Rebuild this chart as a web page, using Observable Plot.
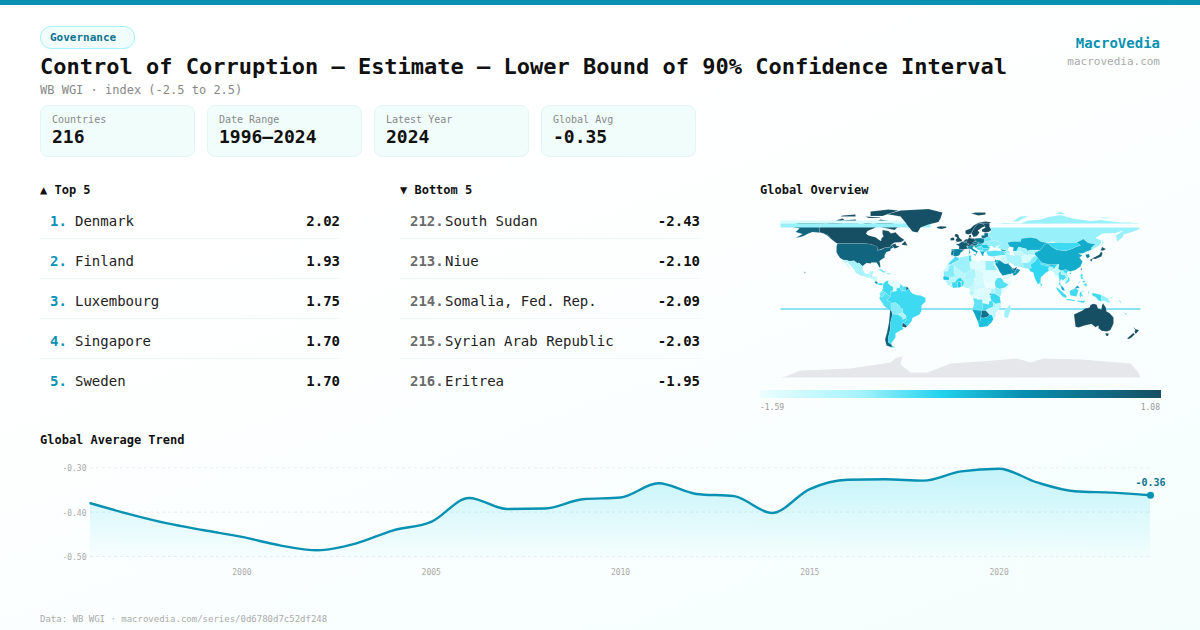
<!DOCTYPE html>
<html><head><meta charset="utf-8">
<script src="https://cdn.jsdelivr.net/npm/d3@7"></script>
<script src="https://cdn.jsdelivr.net/npm/@observablehq/plot@0.6"></script>
<style>
html,body{margin:0;padding:0}
body{width:1200px;height:630px;position:relative;overflow:hidden;background:linear-gradient(160deg,#ffffff 30%,#f4fefd 100%);font-family:"DejaVu Sans Mono",monospace;color:#111}
.a{position:absolute;white-space:pre;line-height:1}
.card{position:absolute;top:105px;width:153px;height:50px;background:#f0fdfa;border:1px solid #e3f6f3;border-radius:8px}
svg{background:transparent!important;overflow:visible}
#map,#trend{position:absolute}
</style></head><body>
<div class="a" style="left:0;top:0;width:1200px;height:5px;background:#0891b2"></div>
<div class="a" style="left:40px;top:26px;width:93px;height:21px;background:#f0fdfa;border:1px solid #a5f3fc;border-radius:11px"></div>
<div class="a" id="badge" style="left:50px;top:32px;font-size:11px;font-weight:700;color:#0e7490"></div>
<div class="a" id="title" style="left:40px;top:56px;font-size:22px;font-weight:700;color:#111"></div>
<div class="a" id="sub" style="left:40px;top:84px;font-size:12px;color:#888"></div>
<div class="a" style="right:40px;top:36px;font-size:14px;font-weight:700;color:#0891b2">MacroVedia</div>
<div class="a" style="right:40px;top:56px;font-size:11px;color:#aaa">macrovedia.com</div>
<div id="cards"></div><div id="lists"></div>
<div class="a" style="left:760px;top:184px;font-size:12px;font-weight:700">Global Overview</div>
<div id="map" style="left:780px;top:202px"></div>
<div class="a" id="legend" style="left:760px;top:390px;width:401px;height:8px"></div>
<div class="a" id="lo" style="left:760px;top:404px;font-size:8px;color:#999"></div>
<div class="a" id="hi" style="right:40px;top:404px;font-size:8px;color:#999"></div>
<div class="a" style="left:40px;top:434px;font-size:12px;font-weight:700">Global Average Trend</div>
<div id="trend" style="left:0;top:450px"></div>
<div class="a" id="foot" style="left:40px;top:615px;font-size:9px;color:#aaa"></div>
<script>
const badge="Governance";
const title="Control of Corruption — Estimate — Lower Bound of 90% Confidence Interval";
const subtitle="WB WGI · index (-2.5 to 2.5)";
const footer="Data: WB WGI · macrovedia.com/series/0d6780d7c52df248";
const cardLabels=["Countries","Date Range","Latest Year","Global Avg"];
const cardValues=["216","1996–2024","2024","-0.35"];
const topRanks=[1,2,3,4,5];
const topNames=["Denmark","Finland","Luxembourg","Singapore","Sweden"];
const topValues=["2.02","1.93","1.75","1.70","1.70"];
const bottomRanks=[212,213,214,215,216];
const bottomNames=["South Sudan","Niue","Somalia, Fed. Rep.","Syrian Arab Republic","Eritrea"];
const bottomValues=["-2.43","-2.10","-2.09","-2.03","-1.95"];
const years=[1996,1997,1998,1999,2000,2001,2002,2003,2004,2005,2006,2007,2008,2009,2010,2011,2012,2013,2014,2015,2016,2017,2018,2019,2020,2021,2022,2023,2024];
const averages=[-0.380,-0.404,-0.425,-0.441,-0.456,-0.475,-0.486,-0.471,-0.441,-0.422,-0.368,-0.393,-0.392,-0.371,-0.367,-0.335,-0.359,-0.364,-0.402,-0.348,-0.327,-0.326,-0.329,-0.308,-0.302,-0.333,-0.353,-0.356,-0.362];
const xTicks=[2000,2005,2010,2015,2020];
const yTicks=[-0.5,-0.4,-0.3];
const colorDomain=[-1.59,-0.9225,-0.3885,0.1455,1.08];
const colorRange=["#ecfeff","#a5f3fc","#22d3ee","#0891b2","#164e63"];
const legendStops=[0,25,45,65,100];
const lowLabel="-1.59", highLabel="1.08";

// Hand-read country outlines: each ring is a flat lon,lat list.
const outlines={
"Fiji":[[-180,-16,180,-16,180,-17,-180,-17]],
"Canada":[[-141,69.6,-134,69,-128,70,-118,69,-108,68,-98,68,-94,71,-88,68.5,-82,69.5,-81,67,-87,64,-93,61.5,-94.5,58.8,-92,57,-85,55.3,-82,53,-79.5,51.5,-79,54.5,-77,56,-78,59,-78,62.4,-72,61.5,-69.5,59,-65,60.3,-61,56,-56,52.5,-60,50.2,-66,50,-70,47.3,-65,49,-64.5,47,-61,46,-64,44.5,-66,44,-67,45.2,-69,47.4,-71,45,-75,45,-79,43.5,-83,42,-82.5,45.3,-89,48,-95,49,-123,49,-125,50,-130,54,-133,57,-137,59,-141,60],[-80,73,-72,71.5,-62,66,-66,62.5,-73,64,-78,65,-85,70],[-118,72,-105,73,-102,69,-115,69],[-90,76.5,-78,76.5,-62,82,-72,83,-90,81],[-125,72,-118,74,-116,73,-120,71],[-95,76,-80,75,-80,74.5,-92,74.5],[-59,47.7,-53,47,-55.5,51.5],[-120,76,-105,76,-105,78,-118,77]],
"USA":[[-123,49,-95,49,-89,48,-84.5,46.5,-82.5,45.3,-83,42,-79,43,-75,45,-71,45,-69,47.4,-67,45,-70,43.5,-70,41.7,-74,40.5,-76,37,-75.7,35.2,-81,31.5,-80,26,-81,25,-82.7,28,-84,30,-89,30,-90,29,-94,29.5,-97.3,27,-97.3,25.9,-99.5,27.5,-101.5,29.8,-103,29,-106.5,31.8,-111,31.3,-114.8,32.5,-117.1,32.5,-120.5,34.5,-124,40,-124,46],[-168,65.6,-162,67,-166,68.5,-156,71.3,-141,69.6,-141,60,-137,59,-133,57,-130,55,-133,58,-140,59.8,-148,60.5,-152,59,-158,56,-165,54.5,-158,58.5,-165,60.5,-161,64],[-156.5,21,-155,20,-155.5,18.9]],
"BandNorth":[[-180,72,-30,72,-30,69,-180,69]],
"BandRussia":[[-180,69,-30,69,-30,65,-180,65]],
"Greenland":[[-73,78.3,-60,82,-32,83.6,-18,80,-20,74,-22,70.5,-32,68,-40,65,-43,60,-48,61,-53,67,-55,70,-60,76]],
"Mexico":[[-117.1,32.5,-114.8,32.5,-111,31.3,-106.5,31.8,-103,29,-101.5,29.8,-99.5,27.5,-97.3,25.9,-97.8,22.5,-95,18.7,-91,18.7,-90.5,21,-87,21.5,-88,18.5,-91,17.5,-92,14.6,-95,16,-100,17,-105,20,-106,23,-109,26,-112.5,30,-113,31,-114.7,30,-112,26,-109.5,23,-112,25,-115,29]],
"Guatemala":[[-92,14.6,-91,17.5,-89.2,17.8,-88.5,15.8,-89.5,14.4]],
"Belize":[[-89.2,17.8,-88.2,18.5,-88.4,16,-89.1,16]],
"Honduras":[[-88.5,15.8,-84,15.9,-83.2,15,-87.3,13,-89.3,14.4]],
"ElSalvador":[[-90,13.8,-89.3,14.4,-87.7,13.8,-88,13.2]],
"Nicaragua":[[-87.3,13,-83.2,15,-83.7,11,-85.7,11]],
"CostaRica":[[-85.7,11,-83.7,11,-82.6,9.5,-83.5,8.3,-85.8,10]],
"Panama":[[-83,9,-79.5,9.5,-77.2,8.6,-78,7.4,-80.5,7.3,-83,8.2]],
"Cuba":[[-85,22,-80,23.2,-74.2,20.2,-77.7,19.9,-78,20.7,-82,22.4]],
"Hispaniola":[[-74.4,18.4,-73,19.9,-68.4,18.6,-71,18]],
"Jamaica":[[-78.3,18.5,-76.3,18.2,-77,17.8]],
"PuertoRico":[[-67,18.5,-65.7,18.3,-66,18]],
"Colombia":[[-77.4,8.6,-75,11,-72,12.3,-72,9,-70,7,-67.5,6,-67.5,2,-69.8,1,-70,-4,-73,-2.5,-75,0,-78.8,1.4,-77.3,4,-77.4,7]],
"Venezuela":[[-72,12.3,-68,11.5,-62,10.7,-60,8.5,-60.8,5,-64,4,-64,1.5,-67,1,-67.5,2,-67.5,6,-70,7,-72,9]],
"Guyana":[[-60,8.5,-57.2,6,-57.5,2,-59,1.3,-60.8,5]],
"Suriname":[[-57.2,6,-54,5.9,-54.5,2.3,-57.5,2]],
"FrenchGuiana":[[-54,5.9,-51.7,4.2,-52.8,2.3,-54.5,2.3]],
"Ecuador":[[-78.8,1.4,-75.2,-0.1,-75.5,-1.5,-78.3,-4.8,-80.3,-3.4,-81,-1]],
"Peru":[[-80.3,-3.4,-78.3,-4.8,-75.5,-1.5,-75.2,-0.1,-73,-2.5,-70,-4,-73.5,-7.5,-70.5,-9.5,-69,-11,-69,-16,-69.5,-17.5,-70.4,-18.3,-76,-14,-81.2,-6]],
"Brazil":[[-51.7,4.2,-50,1,-48,-1,-44,-2.5,-40,-3,-35,-5.3,-35,-9,-39,-13,-39,-18,-41,-22,-48,-25.5,-49,-29,-53.4,-33.7,-57.5,-30.2,-54,-27,-54.6,-25.5,-54.3,-24,-55.8,-22,-58,-20,-57.7,-16.3,-60.2,-16.2,-60.5,-13.8,-65.3,-10,-69.6,-11,-70.5,-9.5,-73.5,-7.5,-70,-4,-69.8,1,-67,1,-64,1.5,-64,4,-60.8,5,-59,1.3,-54.5,2.3]],
"Bolivia":[[-69.6,-11,-65.3,-10,-60.5,-13.8,-60.2,-16.2,-57.7,-16.3,-58,-20,-62.6,-22,-66.2,-21.8,-68,-22,-69.5,-17.5,-69,-16]],
"Paraguay":[[-58,-20,-55.8,-22,-54.3,-24,-54.6,-25.5,-58,-27.3,-57.7,-25.3,-62.6,-22]],
"Chile":[[-70.4,-18.3,-69.5,-17.5,-68,-22,-70,-30,-70,-36,-72,-44,-72,-50,-68.5,-52.4,-68.6,-55,-74,-53,-75.5,-47,-73.5,-40,-71.5,-30]],
"Argentina":[[-68,-22,-66.2,-21.8,-62.6,-22,-57.7,-25.3,-58,-27.3,-54.6,-25.5,-54,-27,-57.5,-30.2,-58.4,-34,-57,-36.5,-62,-39,-65,-41,-65,-45,-69,-50.5,-68.5,-52.4,-72,-50,-72,-44,-70,-36,-70,-30],[-68.6,-52.7,-65.2,-55,-68.6,-55]],
"Uruguay":[[-57.5,-30.2,-53.4,-33.7,-54.9,-35,-58.4,-34]],
"Iceland":[[-24,65.5,-20,66.3,-14.5,66,-14,64.7,-19,63.4,-22.5,64]],
"Ireland":[[-10,52,-10,54.3,-7,55.3,-6,53,-6.5,52.2]],
"UK":[[-5.7,50,-3,50.6,1.3,51.2,1.7,52.7,0,53.5,-1.6,55.5,-2,57.6,-3.5,58.6,-5,58.6,-6,56.5,-3,54.5,-4.5,53.3,-5,51.7,-3,51.4]],
"Norway":[[5,59,7.5,58,10.7,59,12,61.5,14,65,17,68.5,20.5,69,25,69.2,29,69.5,31,70.2,25,71.1,18,69.8,13,67,10,64,5,62],[11,79,18,77,25,78,25,80,15,80]],
"Sweden":[[11,59,13,55.5,16,56.2,19,59.8,17.3,62,21.5,65,24,66,23.5,68,20.5,69,17,68.5,14,65,12,61.5]],
"Finland":[[21.5,61,25,60,28,60.5,31,62.5,29,66,29,69.5,25,69.2,20.5,69,23.5,68,24,66,25,65,21.5,63]],
"Denmark":[[8.2,55,8.5,57,10.6,57.7,10.5,56,11,55,9.5,54.9]],
"France":[[-4.7,48.5,-1.5,48.7,1.5,50.9,4.2,50,8.2,49,7.5,47.6,6,46.2,7.5,43.8,3.2,43.2,3,42.5,-1.7,43.4,-1.2,46],[8.6,42.5,9.5,43,9.4,41.5]],
"Spain":[[-9.2,43.2,-1.7,43.4,3.2,42,0,39.8,-0.5,38,-2,36.8,-5.5,36,-7.4,37.2,-7,39,-6.3,41.8,-8.8,42]],
"Portugal":[[-8.8,42,-6.3,41.8,-7,39,-7.4,37.2,-9,37,-9.5,38.8]],
"Germany":[[6,51,7,53.5,9,54.8,11,54,14,53.9,15,51,12.2,50.3,13.8,48.7,10,47.4,7.6,47.6,8.2,49,6.2,49.6]],
"Netherlands":[[3.4,51.4,4.7,53,7,53.5,6,51]],
"Belgium":[[2.6,51,3.4,51.4,6,51,6.2,49.6,4.2,50]],
"Switzerland":[[6,46.2,7.6,47.6,10,47.4,10.4,46.5,8,45.9]],
"Austria":[[9.6,47.3,13.8,48.7,17,48.6,16,46.8,10.4,46.7]],
"Italy":[[7.5,43.8,7,45.9,10.4,46.7,13.7,46.5,12.3,45,12.5,44,16,41.8,18.5,40,17,40.4,16.5,39,16,38,15.6,40,12.5,41.5,10.3,43.5],[12.5,38,15.6,38.2,15,36.7],[8.3,41,9.7,41,9.5,39.1,8.5,39]],
"Poland":[[14,53.9,19,54.4,23.4,54,24,50.8,22.6,49.1,19,49.4,15,51]],
"Czechia":[[12.2,50.3,15,51,18.8,49.6,17,48.6,13.8,48.7]],
"Slovakia":[[17,48.6,18.8,49.6,22.6,49.1,22,48.4,18,47.8]],
"Hungary":[[16,46.8,17,48,22,48.4,21,46.2,18.5,45.8]],
"Croatia":[[13.7,46.5,16,46.8,18.5,45.8,19,45,15.7,44.8,17,43,18.5,42.5,14.5,45]],
"Serbia":[[15.7,45,19,45,21,46.2,22.7,44.2,22.4,42.4,20.6,41.8,19.3,42.2,18.5,42.5,17,43]],
"Albania":[[19.3,42.2,20.6,41.8,22.4,42.4,23,41.2,20.8,40.9,20,39.7,19.4,40.5]],
"Romania":[[21,46.2,22,48,26.6,48.2,28.2,45.5,29.6,45,28.6,43.7,22.7,44.2]],
"Moldova":[[26.6,48.2,29,47.9,30,46.4,28.2,45.5]],
"Bulgaria":[[22.7,44.2,28.6,43.7,28,42,26,41.5,23,41.2,22.4,42.4]],
"Greece":[[20,39.7,20.8,40.9,26,41.5,24,40.5,23,38.3,23,36.5,21.5,37,21,38.5]],
"Ukraine":[[24,50.8,31,52.2,34,52.3,40,50,39,47,37,46.8,35,46,36,45.2,33.5,44.5,32.6,45.8,30,46.4,29,47.9,26.6,48.2,22,48.4,22.6,49.1]],
"Belarus":[[23.4,54,28,56,31,54.8,31,52.2,24,50.8]],
"Baltics":[[21,55,23.4,54,26.5,55.5,28,56,27.5,59.4,23.5,59.2,24,57.2,21,57]],
"Russia":[[30,65,180,65,177,62.5,170,60,163,58,162,55,156.5,51,155.5,57,163,62,155,59.5,142,59,135,54.5,141,52,140,48,132,43,130.7,42.5,131,45,135,48.4,130,49,127,50,123,53.5,120,52,116,50,108,49.5,98,50,92,51,87,49.5,80,51,76,54,70,55,61,54,60,51,52,51,47,50,49,46,47.5,43,48,41.8,40,43.5,37,45,39,47,40,50,34,52.3,31,52.2,31,54.8,28,56,27.5,59.4,30,60,31,62.5,29,66],[30,69.3,40,69,44,68.5,60,69,68,72,75,72.5,80,73,88,75.5,100,77.5,112,74,130,71.5,140,72.5,160,70,170,70,180,69],[52,71,57,71,68,76.8,60,76],[95,79,105,78,100,81],[138,75,150,75,145,74],[142,54,143,50,142,46,141.8,50]],
"Turkey":[[26,40,26.5,42,28,41.3,34,42,41.5,41.5,44.7,39.7,44.8,37.2,42,37.2,36.5,36.5,32,36,27.5,36.8]],
"Cyprus":[[32.5,35,34.5,35.6,33.8,34.8]],
"Morocco":[[-5.9,35.8,-2,35,-1.2,32.6,-3.5,31.5,-8.7,28.7,-8.7,27.7,-13,27.7,-9.8,31.5,-6.8,34]],
"WesternSahara":[[-13,27.7,-8.7,27.7,-12,26,-12,23.5,-13,21.3,-17,21.3,-14.5,26]],
"Algeria":[[-2,35,8.6,37,8.2,33,9.5,30,10,24.7,12,23.5,5.7,19.5,3.2,19,1.2,20,-4.8,25,-8.7,27.7,-8.7,28.7,-3.5,31.5,-1.2,32.6]],
"Tunisia":[[8.6,37,11,37,10.2,34,11.5,32.5,9.5,30,8.2,33]],
"Libya":[[11.5,32.5,15,32.3,19,30.3,20,32.7,25,31.7,25,20,24,19.5,15,23,12,23.5,10,24.7,9.5,30]],
"Egypt":[[25,31.7,34,31.3,34.5,28,32.5,29.9,35.5,24,37,22,25,22]],
"Sudan":[[24,19.5,25,20,25,22,37,22,38.5,18,36.5,14.3,34.3,10.5,33,10,27,9.5,23.5,10,22.8,15]],
"SouthSudan":[[23.5,10,27,9.5,33,10,34.3,10.5,35,5,31,3.7,28,4.5,25,5]],
"Eritrea":[[36.5,14.3,38.5,18,43,12.5,40,14.8]],
"Ethiopia":[[36.5,14.3,40,14.8,42.5,12.5,43,11,48,8,45,5,42,4,39,3.5,35,5,34.3,10.5]],
"Djibouti":[[42.5,12.5,43.3,11.5,42.8,11]],
"Somalia":[[43,11,51,12,50,8,42,-1.5,41,-1.5,41,3.8,42,4,45,5,48,8]],
"Kenya":[[35,5,39,3.5,41,3.8,41,-1.5,39.3,-4.6,34,-1,34,4]],
"Uganda":[[31,3.7,34,4,34,-1,30,-1,30,1.5]],
"Tanzania":[[30,-1,34,-1,39.3,-4.6,40.4,-10.5,34.8,-11.5,32,-9.3,30.8,-8,29.5,-4.5]],
"Rwanda":[[29,-1.2,30.5,-1.2,30.5,-2.5,29,-2.7]],
"Burundi":[[29,-2.7,30.5,-2.5,29.5,-4.5]],
"Mauritania":[[-17,21.3,-13,21.3,-12,23.5,-12,26,-8.7,27.7,-4.8,25,-6.5,25,-5.5,15.5,-11.5,15.5,-16.5,16.5]],
"Mali":[[-4.8,25,1.2,20,3.2,19,4.2,15,0,14.9,-3,13.5,-5.5,10.4,-8.3,10.2,-11.5,12.4,-11.5,15.5,-5.5,15.5,-6.5,25]],
"Niger":[[3.2,19,5.7,19.5,12,23.5,15,23,15.5,16,13.7,13.5,4,13.5,3,11.8,1,13.3,0,14.9,4.2,15]],
"Chad":[[15,23,24,19.5,22.8,15,23.5,10,22,11,18.8,8,15.5,7.5,14,12.5,13.7,13.5,15.5,16]],
"Senegal":[[-17.5,14.7,-16.5,16.5,-11.5,15.5,-11.5,12.4,-16.7,12.4]],
"GuineaBissau":[[-16.7,12.4,-13.7,12.5,-15,11]],
"Guinea":[[-15,11,-13.7,12.5,-11.5,12.4,-8.3,10.2,-8,8,-10.5,8.3,-13,9.3]],
"SierraLeone":[[-13.3,9,-10.5,8.3,-11.2,7,-13,7.8]],
"Liberia":[[-11.5,7,-8.5,7.5,-7.5,4.4]],
"IvoryCoast":[[-8.5,7.5,-8.3,10.2,-5.5,10.4,-3,9,-3,5,-7.5,4.4]],
"Ghana":[[-3,5,-3,11,0,11,1,6,-1,5]],
"BurkinaFaso":[[-5.5,10.4,-3,13.5,0,14.9,1,13.3,3,11.8,0,11,-3,11,-3,9]],
"Togo":[[0,11,1,11,1.7,6.2,1,6]],
"Benin":[[1,11,3,11.8,3.7,10,2.7,6.3,1.7,6.2]],
"Nigeria":[[2.7,6.3,3.7,10,3,11.8,4,13.5,13.7,13.5,14.5,11,11.5,6.5,8.5,4.6,5.5,4.2]],
"Cameroon":[[8.5,4.6,11.5,6.5,14.5,11,13.7,13.5,14,12.5,15.5,7.5,14.5,4.5,16,2,9.8,2.3]],
"CAR":[[15.5,7.5,18.8,8,22,11,23.5,10,25,5,27.3,5,22,4,18.5,3.5,16,2,14.5,4.5]],
"Gabon":[[9.8,2.3,13.3,2.2,14,-1,11.5,-3.5,9,-1]],
"Congo":[[13.3,2.2,16,2,18.5,3.5,17.7,-1,16,-3.5,12,-5,11.5,-3.5,14,-1]],
"DRC":[[18.5,3.5,22,4,27.3,5,31,3.7,30,1.5,29,-1.2,29,-2.7,29.5,-4.5,30.8,-8,28.5,-9,28.5,-12,24,-11,22,-11,21.8,-7,17,-7,16,-5.9,12.4,-6,12,-5,16,-3.5,17.7,-1]],
"Angola":[[12.4,-6,16,-5.9,17,-7,21.8,-7,22,-11,24,-11,22,-13,22,-16.5,21,-18,13,-17.3,11.8,-17,13.8,-11,13.5,-9]],
"Namibia":[[11.8,-17,13,-17.3,21,-18,25,-17.8,21,-18.5,21,-22,20,-25,20,-28.4,17,-28.5,14.5,-22.5]],
"Botswana":[[21,-18,25.2,-17.8,29.3,-22.2,26.5,-24.8,23,-25.5,20,-25,21,-22]],
"Zambia":[[22,-11,24,-11,28.5,-12,28.5,-9,30.8,-8,32,-9.3,33,-11,33,-14,30,-15.5,28,-16,25.2,-17.8,21,-18,22,-16.5,22,-13]],
"Zimbabwe":[[25.2,-17.8,28,-16,30,-15.5,33,-19,31,-22.3,29.3,-22.2]],
"Malawi":[[33,-9.5,34.8,-11.5,35.5,-16,34,-15,33,-14]],
"Mozambique":[[40.4,-10.5,40.5,-15,35,-20,35.5,-24,32.9,-26,32,-24,31,-22.3,33,-19,30,-15.5,33,-14,35,-16,34.8,-11.5]],
"SouthAfrica":[[17,-28.5,20,-28.4,20,-25,23,-25.5,26.5,-24.8,29.3,-22.2,31,-22.3,32,-24,32.9,-26.8,31,-30,27,-33.8,20,-34.8,18.3,-34,18,-31]],
"Lesotho":[[27.2,-29.5,28.5,-28.7,29.4,-29.7,28,-30.6]],
"Madagascar":[[49.3,-12,50.5,-16,47.5,-25,45,-25.5,43.5,-23,44.3,-17,47,-15]],
"SaudiArabia":[[34.8,29.4,37,31,39,32.4,44,29,47.5,29,48.5,28,50,26.5,51.5,24.5,52,23,55.5,22,55,20,52,19,48,18,45,17.4,43,17,42.5,16.5,39,21,37,25,35,28]],
"UAE":[[51.5,24.3,54,24,56.3,25.8,56,24,55.5,22,52,23]],
"Qatar":[[50.8,25,51.5,26,51.5,24.6]],
"Oman":[[56.3,24,59.8,22.5,58,20,55.2,17.5,53,16.7,52,19,55,20,55.5,22]],
"Yemen":[[43,17,45,17.4,48,18,52,19,53,16.7,45,13,43.5,12.7]],
"Jordan":[[35,29.4,35.6,32.6,39,32.4,37,31,38,30]],
"Israel":[[34.3,31.3,35,33.2,35.6,32.6,35,29.4]],
"Lebanon":[[35.1,33.1,36,34.6,36.5,34,35.6,33.2]],
"Syria":[[36,34.6,36,36.6,42,37.2,41,34.4,38.8,33.4,36.5,33.2]],
"Iraq":[[39,32.4,41,34.4,42,37.2,44.8,37.2,46,35,46,33,48.5,30,47.5,29,44,29]],
"Kuwait":[[46.5,29.1,48.2,29.9,48.3,28.5]],
"Iran":[[44.8,39.7,48,39.5,49,37.5,54,37,56,38,61,36.5,61.5,31.5,63,27,61.5,25,57,26,54,26.7,50,30,48.5,30,46,33,46,35,44.8,37.2]],
"Georgia":[[40,43.5,46.5,41.8,43.5,41,41.5,41.5]],
"Armenia":[[43.5,41,45,41,46.5,39,44.8,39.7]],
"Azerbaijan":[[45,41,46.5,41.8,48,41.8,49.5,40.5,49,37.5,48,39.5,46.5,39]],
"Kazakhstan":[[47,50,52,51,60,51,61,54,70,55,76,54,80,51,87,49.5,83,47,80,42.5,71,42.5,66,41.5,66,43.5,58,45.5,56,41.3,52.5,41.5,53,45,49,46]],
"Uzbekistan":[[56,41.3,58,45.5,66,43.5,66,41.5,71,42.5,73,40.5,68,37.5,65,37.5,61,41]],
"Turkmenistan":[[52.5,41.5,56,41.3,61,41,65,37.5,62,35.5,61,36.5,56,38,54,37]],
"Kyrgyzstan":[[71,42.5,80,42.5,74,39.5,70,40]],
"Tajikistan":[[68,37.5,70,40,74,39.5,75,37.3,71,37]],
"Afghanistan":[[61,36.5,62,35.5,65,37.5,71,38,74.5,37,71,34,69.5,31,66,29.5,61,29.5,61.5,31.5]],
"Pakistan":[[61,29.5,66,29.5,69.5,31,71,34,74.5,37,77,35,74.5,31,70,28,71,24.5,68,23.7,61.5,25,63,27]],
"India":[[68,23.7,71,24.5,70,28,74.5,31,77,35,79,32.5,81,30,80,28.5,88,26.4,88,28,92,28,97,28,94,24,91.5,23,92.5,25,89,26,88,24,88.5,21.7,85,19.5,80.3,15,80,10,77.5,8,74,15,72.8,20,70,21,69,22.5]],
"Nepal":[[80,28.5,81,30,88,28,88,26.4]],
"Bangladesh":[[88,24,89,26,92.5,25,92,21,90,22,88.5,21.7]],
"Bhutan":[[88.9,27.3,92,28,92,26.9]],
"SriLanka":[[80,9.7,81.8,7.5,80.6,6,79.8,8]],
"China":[[74,39.5,80,42.5,83,47,87,49.5,91,46,96,42.8,105,41.7,111,43.5,116,46,120,47,116,50,120,52,123,53.5,127,50,130,49,135,48.4,131,45,130.7,42.5,124.3,40,121.5,39,118,39,122,37,119,35,122,31,120,26,115,22.6,110,21,108,21.6,105,23,102,22,100,21.7,97.5,24,98.5,28,97,28,92,28,88,28,81,30,79,32.5,77,35,75,37.3],[108.7,19.3,111,20,110,18.2]],
"Mongolia":[[87,49.5,98,50,108,49.5,116,50,120,47,116,46,111,43.5,105,41.7,96,42.8,91,46]],
"NorthKorea":[[124.3,40,130.7,42.5,129.7,41,127.5,39.5,128.3,38.5,125,37.8]],
"SouthKorea":[[125,37.8,128.3,38.5,129.4,36,128,34.8,126.3,34.5]],
"Japan":[[131,34,135,35.7,139,38,140.5,41,142,39.5,141,36,138,34.7,135,33.5],[140,42,141.7,45.5,145.3,43.5,143,42],[130,33.5,132,33.5,131,31,130,31.5]],
"Taiwan":[[120,23,121.5,25.2,121,22]],
"Myanmar":[[92,21,94,24,97,28,98.5,28,97.5,24,100,21.7,98,19,98.5,15,99,11,98,14,97,17,94.5,16,94,19]],
"Thailand":[[100,21.7,101,18,105,18,105.5,14.5,102.5,12,100.7,13.5,99.5,11,100,8,102,6,100.3,6.5,98.2,8,99,11,98.5,15,98,19]],
"Laos":[[100,21.7,102,22,105,19,107.5,16,107,14.5,105.5,14.5,105,18,101,18]],
"Vietnam":[[102,22,105,23,108,21.6,105.8,19,109,14,109,11.5,105,8.6,105,10.5,106.8,12,107.5,14.5,107.5,16,105,19]],
"Cambodia":[[102.5,12,105.5,14.5,107.5,14.5,106.8,12,105,10.5]],
"Malaysia":[[100.3,6.5,102,6,103.5,4,104.2,1.4,101.3,2.8],[109.6,2,111.5,1.4,115.5,4.3,118,4.3,119,5.2,116.8,7,113.5,3.5,111,2.5]],
"Indonesia":[[95.3,5.6,98,4,104,-1.5,106,-3,105.8,-5.8,102,-4,100,-1.5,97,2],[105.2,-6.8,108.5,-6.5,114.5,-7.7,114.4,-8.7,106,-7.5],[109,1.8,111.5,1.4,115.5,4.3,118,2,116.5,-2,116,-4,110,-3],[119.5,0.5,125,1.5,120.5,0,123,-4.5,120.5,-3,120.5,-5.5,119,-3],[131,-0.8,134,-0.8,141,-2.6,141,-9.1,138,-8,135,-4.3,132.5,-3.5],[116,-8.3,125,-8.3,123,-10.5,117,-9],[127.5,2,128.5,0,127.5,-1]],
"PNG":[[141,-2.6,145,-4.5,147.5,-6,150,-10.5,147,-10,143.5,-8,141,-9.1],[149,-5.5,152.5,-4,151,-6]],
"Philippines":[[120.3,18.5,122.3,18.3,122,15,124,13,120.7,13.8,120,16],[122,7,125.5,9.7,126.5,7,125.5,5.8,123.5,7.5],[122,11.5,125.3,12,124,10,122.5,9.7],[117.5,8.4,119.6,11.3,119.2,10]],
"Timor":[[124,-9.5,127.2,-8.4,125,-9.6]],
"Solomon":[[157,-7,161,-9.5,160,-10]],
"NewCaledonia":[[164,-20,167,-22.3,165,-21.8]],
"Australia":[[113.5,-22,114,-26,115,-34.3,118,-35,124,-33,131,-31.5,135,-34.7,138,-33,138,-35.7,141,-38.3,146.5,-39,150,-37.5,153,-31,153,-25,149,-20.5,146,-19,145.3,-15,142.5,-10.8,141.5,-13,141,-17,137.5,-16,136,-12,132.5,-11.3,130,-12.5,129,-15,124.5,-16,122,-18,116,-20.8],[144.7,-40.7,148.3,-41,147.5,-43.5,146,-43.6]],
"NewZealand":[[172.7,-34.5,175,-36.5,178.5,-37.7,177,-39.5,175.3,-41.6,174,-39.3,174.8,-37.5],[172.7,-40.5,174.3,-41.7,171,-45,168.5,-46.6,166.5,-46,170,-43]]
};
const antarctica=[-180,-85,180,-85,178,-80,170,-71,120,-67,83,-66,70,-70,57,-66,20,-69,-10,-71,-33,-80,-50,-80,-60,-72,-58,-64,-64,-65,-70,-70,-77,-71,-110,-76,-160,-78,-175,-84];
const scores={Fiji:-.3,Canada:1.08,USA:.76,BandNorth:-1.4,BandRussia:-.87,Greenland:1.05,Mexico:-.95,Guatemala:-1,Belize:-.7,Honduras:-1.1,ElSalvador:-.9,Nicaragua:-1.3,CostaRica:.3,Panama:-.5,Cuba:-.6,Hispaniola:-.9,Jamaica:-.5,PuertoRico:.2,Colombia:-.5,Venezuela:-1.5,Guyana:-.6,Suriname:-.5,FrenchGuiana:1,Ecuador:-.7,Peru:-.58,Brazil:-.5,Bolivia:-.8,Paraguay:-1,Chile:.8,Argentina:-.5,Uruguay:.95,Iceland:1.08,Ireland:1.08,UK:1.08,Norway:1.08,Sweden:1.08,Finland:1.08,Denmark:1.08,France:.9,Spain:.35,Portugal:.5,Germany:1.08,Netherlands:1.08,Belgium:1,Switzerland:1.08,Austria:.9,Italy:.1,Poland:.5,Czechia:.5,Slovakia:.1,Hungary:-.3,Croatia:-.1,Serbia:-.6,Albania:-.6,Romania:-.3,Moldova:-.7,Bulgaria:-.5,Greece:-.1,Ukraine:-.85,Belarus:-.7,Baltics:.6,Russia:-.87,Turkey:-.6,Cyprus:.2,Morocco:-.55,WesternSahara:-1.3,Algeria:-.9,Tunisia:-.5,Libya:-1.45,Egypt:-.85,Sudan:-1.5,SouthSudan:-1.59,Eritrea:-1.5,Ethiopia:-.6,Djibouti:-1,Somalia:-1.5,Kenya:-.9,Uganda:-1,Tanzania:-.48,Rwanda:.2,Burundi:-1.2,Mauritania:-.8,Mali:-1.1,Niger:-1,Chad:-1.35,Senegal:-.3,GuineaBissau:-1.4,Guinea:-1,SierraLeone:-.8,Liberia:-1,IvoryCoast:-.5,Ghana:-.35,BurkinaFaso:-.4,Togo:-.7,Benin:-.45,Nigeria:-1.05,Cameroon:-1.2,CAR:-1.3,Gabon:-1.1,Congo:-1.4,DRC:-1.45,Angola:-.65,Namibia:-.05,Botswana:.6,Zambia:-.55,Zimbabwe:-1.25,Malawi:-.9,Mozambique:-1.15,SouthAfrica:-.25,Lesotho:-.3,Madagascar:-.9,SaudiArabia:.15,UAE:.8,Qatar:.5,Oman:.1,Yemen:-1.45,Jordan:-.2,Israel:.5,Lebanon:-1.2,Syria:-1.5,Iraq:-1.3,Kuwait:-.2,Iran:-.95,Georgia:0,Armenia:-.4,Azerbaijan:-.9,Kazakhstan:-.1,Uzbekistan:-.95,Turkmenistan:-1.2,Kyrgyzstan:-1,Tajikistan:-1,Afghanistan:-1.4,Pakistan:-.8,India:-.45,Nepal:-.6,Bangladesh:-1,Bhutan:.5,SriLanka:-.5,China:-.08,Mongolia:-.5,NorthKorea:-1.55,SouthKorea:.35,Japan:1,Taiwan:.5,Myanmar:-1.2,Thailand:-.55,Laos:-1,Vietnam:-.5,Cambodia:-1.2,Malaysia:-.05,Indonesia:-.5,PNG:-.85,Philippines:-.55,Timor:-.7,Solomon:-.6,NewCaledonia:-.3,Australia:1.08,NewZealand:1.08};
const borderless=["Fiji","BandNorth","BandRussia"];

const $=id=>document.getElementById(id);
$("badge").textContent=badge;$("title").textContent=title;$("sub").textContent=subtitle;$("foot").textContent=footer;
$("lo").textContent=lowLabel;$("hi").textContent=highLabel;
$("legend").style.background=`linear-gradient(90deg,${colorRange.map((c,i)=>c+" "+legendStops[i]+"%").join(",")})`;
cardLabels.forEach((l,i)=>{const x=40+167*i;
 $("cards").insertAdjacentHTML("beforeend",`<div class="card" style="left:${x}px"></div><div class="a" style="left:${x+12}px;top:115px;font-size:10px;color:#888">${l}</div><div class="a" style="left:${x+12}px;top:128px;font-size:18px;font-weight:700;color:#111">${cardValues[i]}</div>`);});
function list(x,head,ranks,names,vals,rankColor,nameX){
 let h=`<div class="a" style="left:${x}px;top:184px;font-size:12px;font-weight:700">${head}</div>`;
 names.forEach((n,i)=>{const y=214+40*i;
  h+=`<div class="a" style="left:${x+10}px;top:${y}px;font-size:14px;font-weight:700;color:${rankColor}">${ranks[i]}.</div>`;
  h+=`<div class="a" style="left:${x+nameX}px;top:${y}px;font-size:14px;color:#222">${n}</div>`;
  h+=`<div class="a" style="left:${x}px;width:300px;text-align:right;top:${y}px;font-size:14px;font-weight:700;color:#111">${vals[i]}</div>`;
  if(i<4)h+=`<div class="a" style="left:${x}px;top:${y+24}px;width:300px;height:1px;background:#f0f7f7"></div>`;
 });
 $("lists").insertAdjacentHTML("beforeend",h);
}
list(40,"▲ Top 5",topRanks,topNames,topValues,"#0891b2",35);
list(400,"▼ Bottom 5",bottomRanks,bottomNames,bottomValues,"#6b6b6b",45);

// Map
const pts=[];
for(const name of Object.keys(outlines)){
 const sw=borderless.includes(name)?0:0.2;
 outlines[name].forEach((ring,r)=>{for(let i=0;i<ring.length;i+=2)pts.push({id:name+r,lon:ring[i],lat:ring[i+1],v:scores[name],sw});});
}
const anta=[];for(let i=0;i<antarctica.length;i+=2)anta.push({lon:antarctica[i],lat:antarctica[i+1]});
$("map").append(Plot.plot({
 width:360,height:180,margin:0,
 x:{domain:[-180,180],range:[0,360],axis:null},
 y:{domain:[90,-90],range:[0,180],axis:null},
 color:{type:"linear",domain:colorDomain,range:colorRange,clamp:true,interpolate:"rgb"},
 marks:[
  Plot.line(anta,{x:"lon",y:"lat",fill:"#e5e7eb",stroke:"none",curve:"linear-closed"}),
  Plot.line(pts,{x:"lon",y:"lat",z:"id",fill:"v",stroke:"#ffffff",strokeWidth:"sw",strokeOpacity:0.6,curve:"linear-closed"})
 ]
}));

// Trend
const rows=years.map((y,i)=>({year:y,v:averages[i]}));
const baseV=-0.5137;
const last=rows[rows.length-1];
$("trend").append(Plot.plot({
 width:1200,height:140,marginLeft:90,marginRight:50,marginTop:0,marginBottom:28,
 style:{fontFamily:'"DejaVu Sans Mono",monospace'},
 x:{domain:[1996,2024],range:[90,1150],axis:null},
 y:{domain:[baseV,-0.3],range:[112,17.3],axis:null},
 marks:[
  ()=>{const d=d3.create("svg:defs");d.html('<linearGradient id="tg" x1="0" y1="0" x2="0" y2="1"><stop offset="0" stop-color="#22d3ee" stop-opacity="0.25"/><stop offset="1" stop-color="#22d3ee" stop-opacity="0"/></linearGradient>');return d.node();},
  Plot.gridY(yTicks,{stroke:"#e5eeee",strokeOpacity:1,strokeDasharray:"3,3"}),
  Plot.areaY(rows,{x:"year",y1:baseV,y2:"v",fill:"url(#tg)",curve:"monotone-x"}),
  Plot.lineY(rows,{x:"year",y:"v",stroke:"#0891b2",strokeWidth:2.4,curve:"monotone-x"}),
  Plot.dot([last],{x:"year",y:"v",r:3.5,fill:"#0891b2"}),
  Plot.text([last],{x:"year",y:"v",text:d=>d.v.toFixed(2),dy:-12,fontSize:10,fontWeight:700,fill:"#0e7490"}),
  Plot.axisY(yTicks,{anchor:"left",tickSize:0,tickPadding:4,dy:1,fontSize:8,color:"#aaa",label:null,tickFormat:d=>d.toFixed(2)}),
  Plot.axisX(xTicks,{anchor:"bottom",tickSize:0,tickPadding:7,fontSize:8,color:"#aaa",label:null,tickFormat:d=>String(d)})
 ]
}));
</script>
</body></html>
